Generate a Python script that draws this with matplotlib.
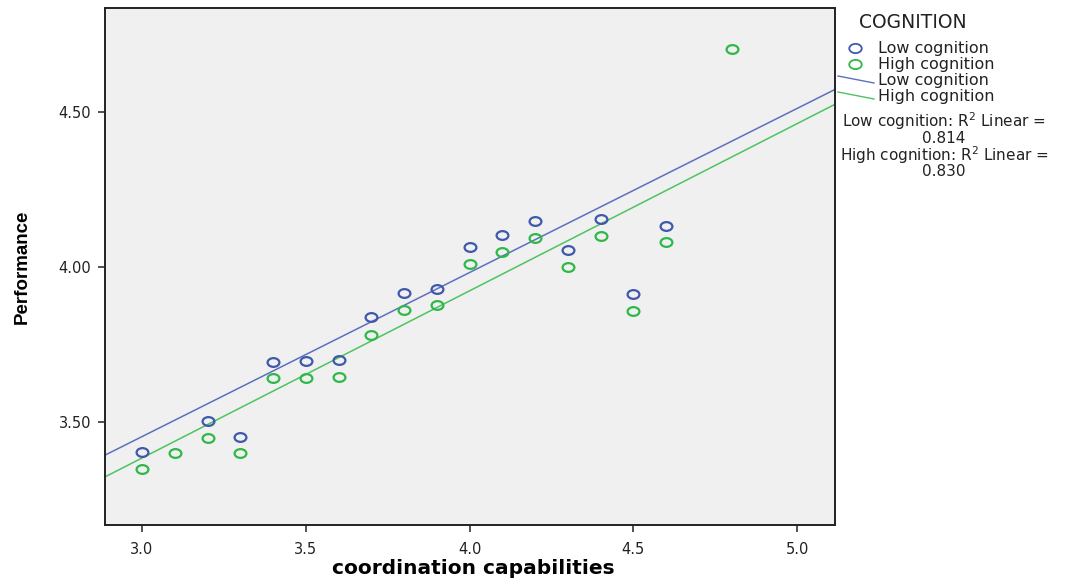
import numpy as np
import matplotlib
matplotlib.use("Agg")
import matplotlib.pyplot as plt
from matplotlib.lines import Line2D
from matplotlib.path import Path
from matplotlib.transforms import Affine2D

# ---- data ----
low_x = [3.0, 3.2, 3.3, 3.4, 3.5, 3.6, 3.7, 3.8, 3.9, 4.0, 4.1, 4.2, 4.3, 4.4, 4.5, 4.6]
low_y = [3.403, 3.503, 3.452, 3.694, 3.697, 3.700, 3.839, 3.916, 3.929, 4.065, 4.103, 4.148, 4.055, 4.155, 3.913, 4.132]
high_x = [3.0, 3.1, 3.2, 3.3, 3.4, 3.5, 3.6, 3.7, 3.8, 3.9, 4.0, 4.1, 4.2, 4.3, 4.4, 4.5, 4.6, 4.8]
high_y = [3.348, 3.400, 3.448, 3.400, 3.642, 3.642, 3.645, 3.781, 3.861, 3.877, 4.010, 4.048, 4.094, 4.000, 4.100, 3.858, 4.081, 4.703]
# fitted linear lines: (slope, intercept)
low_fit = [0.529, 1.866]
high_fit = [0.539, 1.767]
group_labels = ["Low cognition", "High cognition"]
r2_text = ("Low cognition: R$^2$ Linear =\n0.814\n"
           "High cognition: R$^2$ Linear =\n0.830")
x_ticks = [3.0, 3.5, 4.0, 4.5, 5.0]
y_ticks = [3.5, 4.0, 4.5]

blue = "#3E58AC"
green = "#2EB848"
blue_line = "#5D70BF"
green_line = "#4DC45F"

ell = Path.unit_circle().transformed(Affine2D().scale(1.35, 1.0))

W, H = 1071, 580
def fx(px): return px / W
def fy(py): return 1 - py / H

fig = plt.figure(figsize=(10.71, 5.80), dpi=100)
ax = fig.add_axes([105/W, 1-525/H, 730/W, 517/H])
ax.set_facecolor("#F0F0F0")

ax.plot(low_x, low_y, linestyle="none", marker=ell, markersize=8.5,
        markerfacecolor="none", markeredgecolor=blue, markeredgewidth=1.6, zorder=3)
ax.plot(high_x, high_y, linestyle="none", marker=ell, markersize=8.5,
        markerfacecolor="none", markeredgecolor=green, markeredgewidth=1.6, zorder=3)

xlim = (2.887, 5.116)
xx = np.array(xlim)
for (k, b), c in [(low_fit, blue_line), (high_fit, green_line)]:
    ax.plot(xx, k*xx + b, color=c, lw=1.1, zorder=2)

ax.set_xlim(*xlim)
ax.set_ylim(3.168, 4.835)
ax.set_xticks(x_ticks)
ax.set_xticklabels([f"{v:.1f}" for v in x_ticks])
ax.set_yticks(y_ticks)
ax.set_yticklabels([f"{v:.2f}" for v in y_ticks])
ax.tick_params(direction="out", length=5, width=1.2, color="#333333",
               labelsize=10.5, labelcolor="#222222")
ax.tick_params(axis="x", pad=7)
ax.tick_params(axis="y", pad=5)
for lab in ax.get_xticklabels() + ax.get_yticklabels():
    lab.set_family("DejaVu Sans")
for s in ax.spines.values():
    s.set_linewidth(1.4)
    s.set_color("#222222")

fig.text(fx(473), fy(569), "coordination capabilities", fontsize=14.5,
         fontweight="bold", family="DejaVu Sans", ha="center", va="center")
fig.text(fx(22), fy(267), "Performance", fontsize=13.5, fontweight="bold",
         family="Liberation Sans", rotation=90, ha="center", va="center")

# ---- legend (manual) ----
tc = "#222222"
fig.text(fx(859), fy(23), "COGNITION", fontsize=13.5, family="DejaVu Sans",
         va="center", ha="left", color=tc)
for i, c in enumerate([blue, green]):
    y = 48 + i*16
    fig.add_artist(Line2D([fx(855)], [fy(y)], marker=ell, markersize=9,
                          markerfacecolor="none", markeredgecolor=c,
                          markeredgewidth=1.3, transform=fig.transFigure))
for i, c in enumerate([blue_line, green_line]):
    y = 81 + i*16
    fig.add_artist(Line2D([fx(838), fx(874)], [fy(y-5), fy(y+2)], color=c, lw=1.0,
                          transform=fig.transFigure, zorder=-1))
fig.text(fx(878), fy(72.5), "\n".join(group_labels + group_labels), fontsize=11.5,
         family="DejaVu Sans", va="center", ha="left", color=tc, linespacing=1.08)
fig.text(fx(944), fy(145), r2_text, fontsize=11, family="DejaVu Sans",
         va="center", ha="center", color=tc, zorder=-1, linespacing=0.88)

fig.savefig("out.png", dpi=100)
